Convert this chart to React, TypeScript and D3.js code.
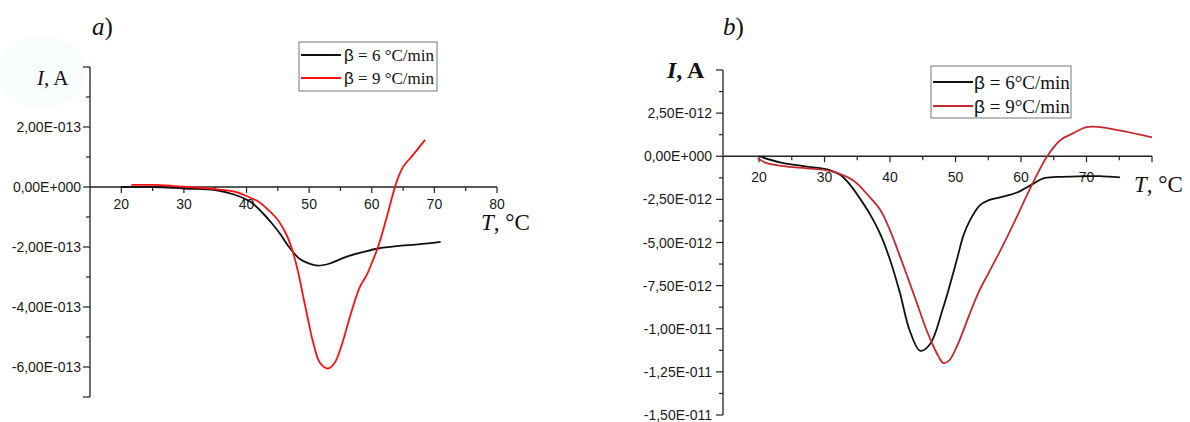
import React from "react";
import * as d3 from "d3";

// ---------- Panel a) data (I in units of 1e-13 A) ----------
const aBlackT = [20, 25, 30, 35, 38, 40, 41, 42.5, 44, 45.5, 46.6, 48.5, 50, 51.4, 53.3, 56, 58.6, 61, 64, 67, 69, 71];
const aBlackI = [0, 0, -0.05, -0.1, -0.25, -0.42, -0.55, -0.85, -1.2, -1.6, -1.95, -2.4, -2.55, -2.62, -2.55, -2.32, -2.17, -2.05, -1.97, -1.92, -1.88, -1.83];
const aRedT = [21.6, 25, 28, 30, 33, 35, 38, 40, 42, 43.4, 45, 46.4, 47.3, 48.2, 49, 49.8, 50.6, 51.7, 53, 54.1, 55.3, 56.5, 58.1, 59.2, 60.2, 61, 62.4, 63.9, 65, 66.6, 68.5];
const aRedI = [0.07, 0.07, 0.04, 0.01, -0.03, -0.07, -0.15, -0.3, -0.5, -0.75, -1.1, -1.6, -2.1, -2.8, -3.6, -4.4, -5.15, -5.85, -6.05, -5.85, -5.2, -4.33, -3.33, -2.93, -2.43, -2.0, -1.0, 0.13, 0.67, 1.07, 1.57];
const aYTicks = [-7, -6, -5, -4, -3, -2, -1, 0, 1, 2, 3, 4];
const aYLabels: Record<string, string> = { "2": "2,00E-013", "0": "0,00E+000", "-2": "-2,00E-013", "-4": "-4,00E-013", "-6": "-6,00E-013" };
const aXMajor = [20, 30, 40, 50, 60, 70, 80];
const aXMinor = [25, 35, 45, 55, 65, 75];
const aXLabels = ["20", "30", "40", "50", "60", "70", "80"];
const aLegend = ["6 °C/min", "9 °C/min"];

// ---------- Panel b) data (I in units of 1e-12 A) ----------
const bBlackT = [20, 23.2, 27.3, 30.8, 32.5, 34, 35.5, 37, 38.5, 40, 41.5, 43, 44.6, 46.1, 48.1, 50.2, 51.2, 52.2, 53.7, 55, 56.8, 59.4, 61.7, 63.4, 65.5, 69.5, 72, 75.1];
const bBlackI = [0, -0.35, -0.6, -0.8, -1.1, -1.7, -2.5, -3.4, -4.5, -6.0, -7.9, -10.1, -11.28, -10.9, -8.8, -6.0, -4.6, -3.72, -2.85, -2.56, -2.38, -2.1, -1.63, -1.28, -1.2, -1.16, -1.15, -1.22];
const bRedT = [19.8, 21.2, 24.3, 27.3, 30.8, 34.4, 36.5, 38.5, 40, 42, 44, 45.5, 46.6, 47.4, 48.1, 49, 50, 51, 52, 53.5, 55, 56.8, 59, 61.7, 64, 66, 68, 70, 72, 75, 80];
const bRedI = [-0.12, -0.4, -0.6, -0.7, -0.85, -1.4, -2.2, -3.1, -4.3, -6.3, -8.4, -10.0, -11.0, -11.6, -11.98, -11.85, -11.2, -10.3, -9.3, -7.9, -6.8, -5.5, -3.8, -1.63, 0, 0.93, 1.34, 1.69, 1.69, 1.5, 1.1];
const bYTicks = [-15, -13.75, -12.5, -11.25, -10, -8.75, -7.5, -6.25, -5, -3.75, -2.5, -1.25, 0, 1.25, 2.5, 3.75, 5];
const bYLabels: Record<string, string> = { "2.5": "2,50E-012", "0": "0,00E+000", "-2.5": "-2,50E-012", "-5": "-5,00E-012", "-7.5": "-7,50E-012", "-10": "-1,00E-011", "-12.5": "-1,25E-011", "-15": "-1,50E-011" };
const bXMajor = [20, 30, 40, 50, 60, 70, 80];
const bXMinor = [25, 35, 45, 55, 65, 75];
const bXLabels = ["20", "30", "40", "50", "60", "70", ""];
const bLegend = ["6°C/min", "9°C/min"];

const SANS = "'Liberation Sans', Arial, sans-serif";
const SERIF = "'Liberation Serif', 'Times New Roman', serif";

type PanelProps = {
  xDomain: [number, number]; xRange: [number, number];
  yDomain: [number, number]; yRange: [number, number];
  yTicks: number[]; yLabels: Record<string, string>;
  xMajor: number[]; xMinor: number[]; xLabels: string[];
  series: { t: number[]; v: number[]; color: string }[];
  yLabelEnd: number; xLabelDy: number;
  tickFont: number;
};

function Panel(p: PanelProps) {
  const x = d3.scaleLinear().domain(p.xDomain).range(p.xRange);
  const y = d3.scaleLinear().domain(p.yDomain).range(p.yRange);
  const y0 = y(0);
  const line = d3.line<[number, number]>().x((d) => x(d[0])).y((d) => y(d[1])).curve(d3.curveCatmullRom.alpha(0.5));
  return (
    <g>
      <line x1={p.xRange[0]} x2={p.xRange[0]} y1={p.yRange[1]} y2={p.yRange[0]} stroke="#222" strokeWidth={1.3} />
      {p.yTicks.map((v) => {
        const lab = p.yLabels[String(v)];
        const len = lab !== undefined || v === p.yDomain[0] || v === p.yDomain[1] ? 7 : 4;
        return (
          <g key={"y" + v}>
            <line x1={p.xRange[0] - len} x2={p.xRange[0]} y1={y(v)} y2={y(v)} stroke="#222" strokeWidth={1.2} />
            {lab && (
              <text x={p.yLabelEnd} y={y(v) + 5} textAnchor="end" fontFamily={SANS} fontSize={p.tickFont} fill="#1a1a1a">{lab}</text>
            )}
          </g>
        );
      })}
      <line x1={p.xRange[0]} x2={p.xRange[1]} y1={y0} y2={y0} stroke="#222" strokeWidth={1.3} />
      {p.xMajor.map((v, i) => (
        <g key={"xm" + v}>
          <line x1={x(v)} x2={x(v)} y1={y0} y2={y0 + 6} stroke="#222" strokeWidth={1.2} />
          <text x={x(v)} y={y0 + p.xLabelDy} textAnchor="middle" fontFamily={SANS} fontSize={p.tickFont} fill="#1a1a1a">{p.xLabels[i]}</text>
        </g>
      ))}
      {p.xMinor.map((v) => (
        <line key={"xn" + v} x1={x(v)} x2={x(v)} y1={y0} y2={y0 + 4} stroke="#222" strokeWidth={1.2} />
      ))}
      {p.series.map((s, i) => (
        <path key={"s" + i} d={line(s.t.map((t, j) => [t, s.v[j]] as [number, number])) || ""} fill="none" stroke={s.color} strokeWidth={1.8} />
      ))}
    </g>
  );
}

function Legend(props: { x: number; y: number; w: number; h: number; rows: number[]; labels: string[]; colors: string[]; lineW: number; fontSize: number; textX: number }) {
  const { x, y, w, h, rows, labels, colors, lineW, fontSize, textX } = props;
  return (
    <g>
      <rect x={x} y={y} width={w} height={h} fill="white" stroke="#777" strokeWidth={1} />
      {labels.map((l, i) => (
        <g key={i}>
          <line x1={x + 2} x2={x + 2 + lineW} y1={rows[i]} y2={rows[i]} stroke={colors[i]} strokeWidth={1.8} />
          <text x={textX} y={rows[i] + fontSize * 0.35} fontFamily={SERIF} fontSize={fontSize} fill="#111">
            <tspan fontFamily={SANS}>β</tspan> = {l}
          </text>
        </g>
      ))}
    </g>
  );
}

export default function App() {
  return (
    <div style={{ position: "absolute", left: 0, top: 0 }}>
      <svg width={1190} height={422} style={{ display: "block", background: "white" }}>
        <ellipse cx={42} cy={72} rx={44} ry={36} fill="#f8fcfc" />
        {/* Panel a */}
        <text x={92} y={35} fontFamily={SERIF} fontSize={25} fill="#111"><tspan fontStyle="italic">a</tspan>)</text>
        <text x={37} y={85} fontFamily={SERIF} fontSize={21} fill="#111"><tspan fontStyle="italic">I</tspan>, A</text>
        <Panel
          xDomain={[15, 80]} xRange={[90, 497]}
          yDomain={[-7, 4]} yRange={[397, 67]}
          yTicks={aYTicks} yLabels={aYLabels}
          xMajor={aXMajor} xMinor={aXMinor} xLabels={aXLabels}
          series={[{ t: aBlackT, v: aBlackI, color: "#111" }, { t: aRedT, v: aRedI, color: "#ff1010" }]}
          yLabelEnd={81} xLabelDy={22} tickFont={14}
        />
        <text x={481} y={230} fontFamily={SERIF} fontSize={23} fill="#111"><tspan fontStyle="italic">T</tspan>, °C</text>
        <Legend x={299} y={42} w={138} h={49} rows={[55, 78]} labels={aLegend} colors={["#111", "#ff1010"]} lineW={40} fontSize={17} textX={344} />

        {/* Panel b */}
        <text x={723} y={35} fontFamily={SERIF} fontSize={25} fill="#111"><tspan fontStyle="italic">b</tspan>)</text>
        <text x={667} y={78} fontFamily={SERIF} fontSize={24} fontWeight={600} fill="#111"><tspan fontStyle="italic">I</tspan>, A</text>
        <Panel
          xDomain={[14.5, 80]} xRange={[723, 1152]}
          yDomain={[-15, 5]} yRange={[415, 70]}
          yTicks={bYTicks} yLabels={bYLabels}
          xMajor={bXMajor} xMinor={bXMinor} xLabels={bXLabels}
          series={[{ t: bBlackT, v: bBlackI, color: "#111" }, { t: bRedT, v: bRedI, color: "#c42a2e" }]}
          yLabelEnd={712} xLabelDy={26} tickFont={14}
        />
        <text x={1134} y={192} fontFamily={SERIF} fontSize={23} fill="#111"><tspan fontStyle="italic">T</tspan>, °C</text>
        <Legend x={931} y={66} w={140} h={52} rows={[82, 106]} labels={bLegend} colors={["#111", "#c42a2e"]} lineW={40} fontSize={19} textX={974} />
      </svg>
    </div>
  );
}
